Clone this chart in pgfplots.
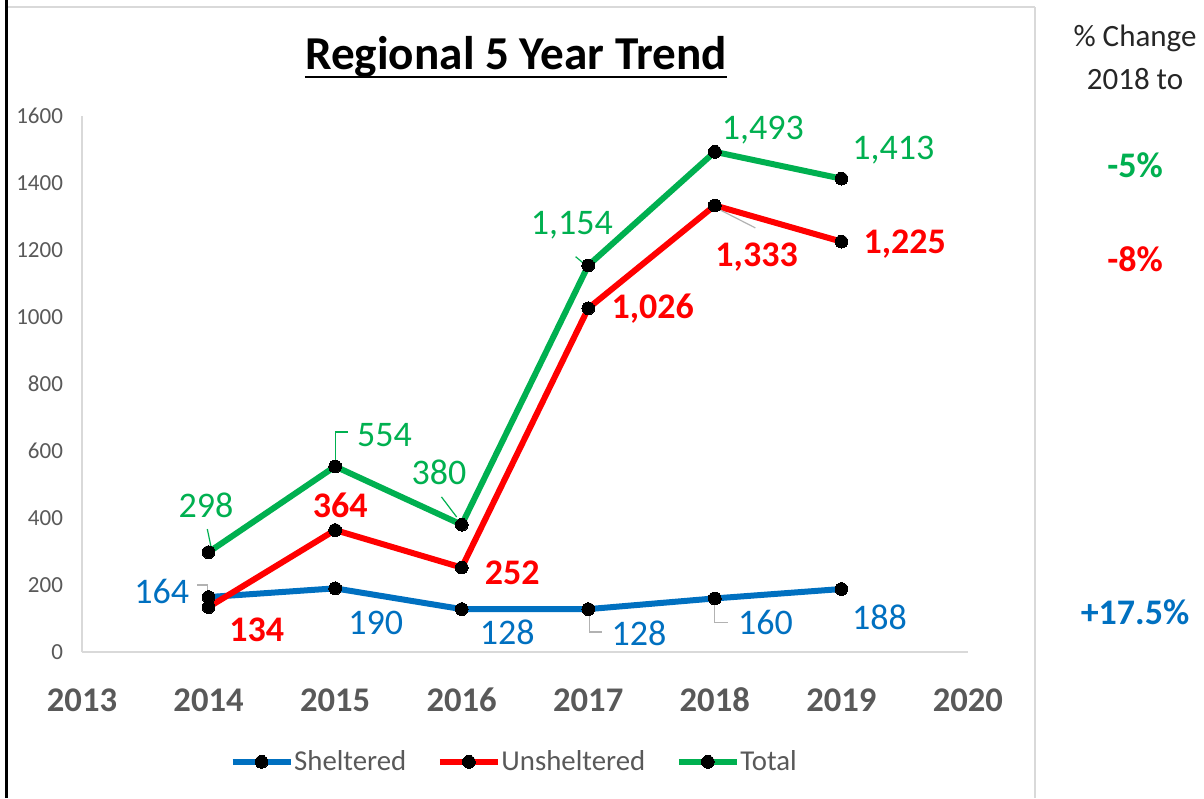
\documentclass[border=0pt]{standalone}
\usepackage{pgfplots}
\pgfplotsset{compat=1.18}
\usepackage{fontspec}
\setmainfont{Carlito}
\definecolor{cblue}{HTML}{0070C0}
\definecolor{cred}{HTML}{FF0000}
\definecolor{cgreen}{HTML}{00B050}
\definecolor{tgray}{HTML}{595959}
\definecolor{agray}{HTML}{D9D9D9}
\newcommand{\lbl}{\fontsize{18pt}{20pt}\selectfont}
\begin{document}
\begin{tikzpicture}
\useasboundingbox (0,0) rectangle (602pt,399pt);
\fill[white] (0,0) rectangle (602pt,399pt);
\draw[black, line width=1.6pt] (3.25pt,0) -- (3.25pt,399pt);
\draw[agray, line width=1pt] (4pt,395.5pt) -- (517.5pt,395.5pt);
\draw[agray, line width=1pt] (517.5pt,0) -- (517.5pt,395.5pt);
\begin{axis}[
  at={(41pt,73pt)}, anchor=south west,
  scale only axis, width=443pt, height=268pt,
  xmin=2013, xmax=2020, ymin=0, ymax=1600,
  axis x line=bottom, axis y line=left,
  axis line style={agray, line width=1pt, -},
  xtick={2013,2014,...,2020}, ytick={0,200,...,1600},
  major tick length=0pt,
  /pgf/number format/1000 sep={},
  /pgf/number format/assume math mode=true,
  x tick label style={font=\fontsize{17.3pt}{20pt}\selectfont\bfseries, text=tgray, anchor=center, yshift=-24pt},
  y tick label style={font=\fontsize{11.5pt}{13pt}\selectfont, text=tgray, xshift=-6pt},
  clip=false,
  legend columns=3,
  legend style={at={(0.487,-0.205)}, anchor=center, draw=none, fill=none,
    font=\fontsize{14.4pt}{16pt}\selectfont, text=tgray,
    nodes={inner xsep=0.3pt},
    /tikz/every even column/.append style={column sep=15pt}},
  legend image code/.code={\draw[mark repeat=2,mark phase=2,#1] plot coordinates {(0pt,0pt) (14.5pt,0pt) (29pt,0pt)};},
  every axis plot/.append style={line width=3pt, mark=*, mark size=3.2pt, mark options={black, fill=black, line width=0pt}},
]
\addplot[cblue] coordinates {(2014,164) (2015,190) (2016,128) (2017,128) (2018,160) (2019,188)};
\addlegendentry{Sheltered}
\addplot[cred] coordinates {(2014,134) (2015,364) (2016,252) (2017,1026) (2018,1333) (2019,1225)};
\addlegendentry{Unsheltered}
\addplot[cgreen] coordinates {(2014,298) (2015,554) (2016,380) (2017,1154) (2018,1493) (2019,1413)};
\addlegendentry{Total}
% Sheltered labels
\node[text=cblue, font=\lbl] at (axis cs:2013.63,182) {164};
\node[text=cblue, font=\lbl] at (axis cs:2015.32,87) {190};
\node[text=cblue, font=\lbl] at (axis cs:2016.36,60) {128};
\node[text=cblue, font=\lbl] at (axis cs:2017.40,57) {128};
\node[text=cblue, font=\lbl] at (axis cs:2018.40,87) {160};
\node[text=cblue, font=\lbl] at (axis cs:2019.30,104) {188};
% Unsheltered labels
\node[text=cred, font=\lbl\bfseries] at (axis cs:2014.38,66) {134};
\node[text=cred, font=\lbl\bfseries] at (axis cs:2015.04,439) {364};
\node[text=cred, font=\lbl\bfseries] at (axis cs:2016.40,236) {252};
\node[text=cred, font=\lbl\bfseries] at (axis cs:2017.51,1024) {1,026};
\node[text=cred, font=\lbl\bfseries] at (axis cs:2018.33,1179) {1,333};
\node[text=cred, font=\lbl\bfseries] at (axis cs:2019.50,1218) {1,225};
% Total labels
\node[text=cgreen, font=\lbl] at (axis cs:2013.98,439) {298};
\node[text=cgreen, font=\lbl] at (axis cs:2015.39,648) {554};
\node[text=cgreen, font=\lbl] at (axis cs:2015.82,537) {380};
\node[text=cgreen, font=\lbl] at (axis cs:2016.87,1275) {1,154};
\node[text=cgreen, font=\lbl] at (axis cs:2018.38,1558) {1,493};
\node[text=cgreen, font=\lbl] at (axis cs:2019.41,1498) {1,413};
% leader lines
\draw[cgreen, line width=0.6pt] (axis cs:2013.99,367) -- (axis cs:2014.02,313);
\draw[cgreen, line width=0.6pt] (axis cs:2015.10,657) -- (axis cs:2015.0,657) -- (axis cs:2015.0,570);
\draw[cgreen, line width=0.6pt] (axis cs:2015.84,463) -- (axis cs:2015.96,403);
\draw[cgreen, line width=0.6pt] (axis cs:2016.90,1180) -- (axis cs:2016.98,1155);
\draw[gray!60, line width=0.6pt] (axis cs:2018.04,1320) -- (axis cs:2018.32,1266);
\draw[gray!60, line width=0.6pt] (axis cs:2013.91,200) -- (axis cs:2013.99,200) -- (axis cs:2013.99,175);
\draw[gray!60, line width=0.6pt] (axis cs:2017.01,119) -- (axis cs:2017.01,60) -- (axis cs:2017.11,60);
\draw[gray!60, line width=0.6pt] (axis cs:2018.0,155) -- (axis cs:2018.0,87) -- (axis cs:2018.10,87);
\end{axis}
\node[anchor=base, inner sep=0pt, font=\fontsize{23.6pt}{28pt}\selectfont\bfseries] (T) at (258pt,364pt) {Regional 5 Year Trend};
\draw[line width=1.1pt] ([yshift=-3.6pt]T.base west) -- ([yshift=-3.6pt]T.base east);
\node[anchor=base, font=\fontsize{15.5pt}{18pt}\selectfont, text=black!85] at (567.5pt,375.5pt) {\% Change};
\node[anchor=base, font=\fontsize{15.5pt}{18pt}\selectfont, text=black!85] at (567.5pt,354pt) {2018 to};
\node[anchor=base, font=\fontsize{18pt}{20pt}\selectfont\bfseries, text=cgreen] at (567.5pt,310pt) {-5\%};
\node[anchor=base, font=\fontsize{18pt}{20pt}\selectfont\bfseries, text=cred] at (567.5pt,263pt) {-8\%};
\node[anchor=base, font=\fontsize{18pt}{20pt}\selectfont\bfseries, text=cblue] at (567.5pt,86.5pt) {+17.5\%};
\end{tikzpicture}
\end{document}
